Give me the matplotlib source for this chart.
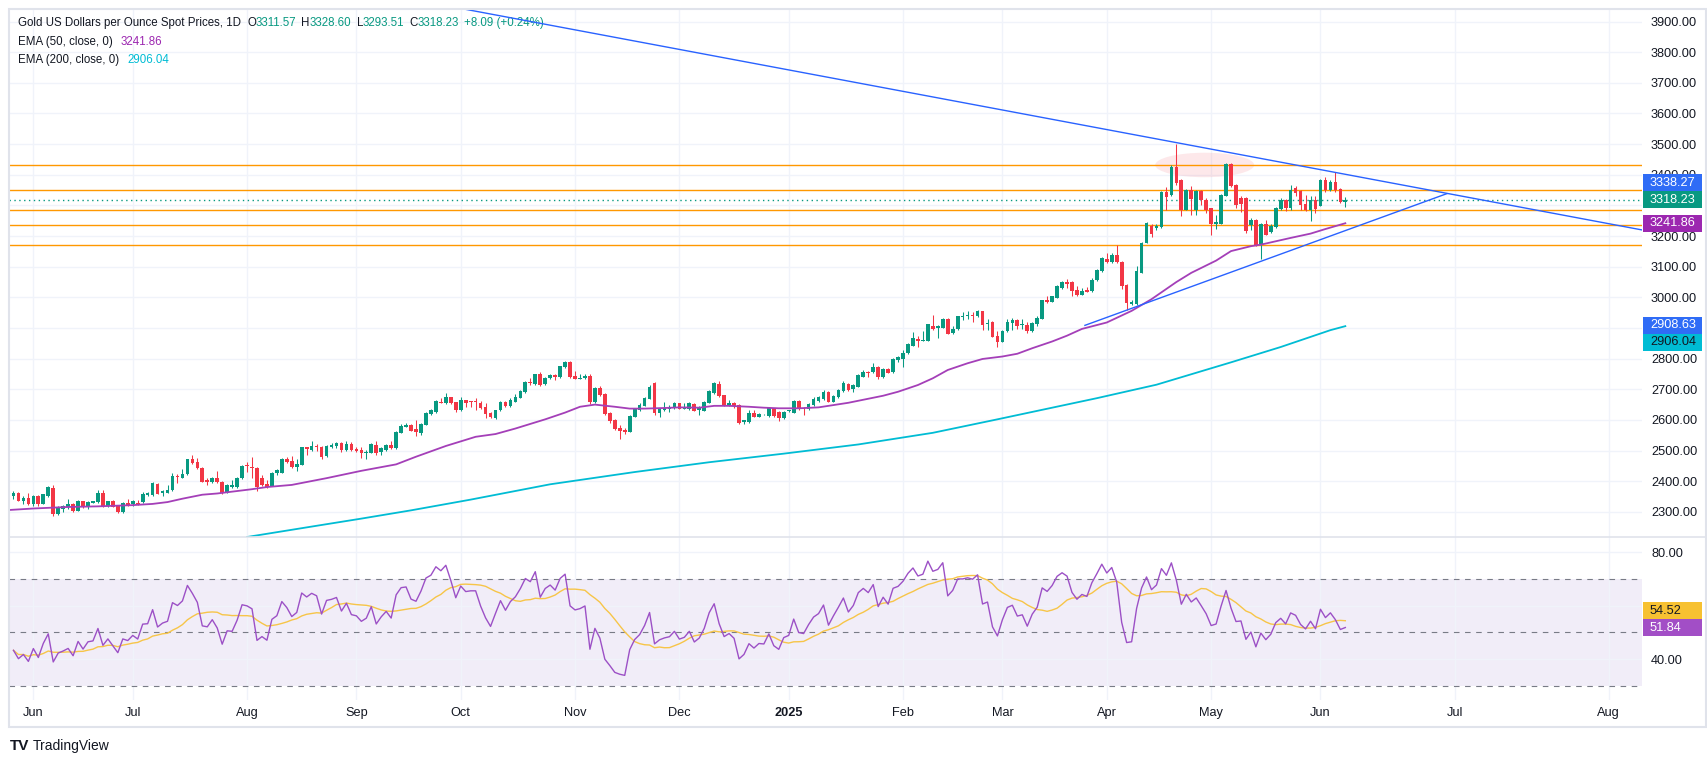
import numpy as np
import pandas as pd
import matplotlib
matplotlib.use("Agg")
import matplotlib.pyplot as plt
from matplotlib.patches import Ellipse, Rectangle
from matplotlib.lines import Line2D
from matplotlib.transforms import IdentityTransform

plt.rcParams['font.family'] = ['Liberation Sans', 'DejaVu Sans']

# daily OHLC, 28 May 2024 .. 9 Jun 2025
opens = [2352, 2363, 2337, 2346, 2325, 2352, 2327, 2352, 2377, 2293, 2310, 2315, 2326, 2304, 2335, 2315, 2330, 2331, 2361, 2320,
         2336, 2322, 2298, 2328, 2325, 2330, 2331, 2355, 2355, 2392, 2361, 2363, 2370, 2418, 2411, 2423, 2471, 2462, 2443, 2404,
         2396, 2412, 2398, 2363, 2381, 2381, 2409, 2451, 2447, 2443, 2409, 2392, 2385, 2427, 2428, 2472, 2466, 2446, 2454, 2511,
         2502, 2516, 2512, 2481, 2513, 2515, 2525, 2502, 2522, 2506, 2502, 2493, 2493, 2518, 2495, 2502, 2518, 2508, 2558, 2578,
         2583, 2571, 2558, 2584, 2619, 2625, 2659, 2656, 2674, 2658, 2632, 2664, 2662, 2660, 2656, 2643, 2623, 2606, 2632, 2658,
         2645, 2660, 2673, 2691, 2724, 2716, 2749, 2716, 2737, 2748, 2741, 2773, 2789, 2743, 2734, 2736, 2743, 2658, 2705, 2686,
         2624, 2600, 2574, 2568, 2562, 2611, 2632, 2647, 2669, 2719, 2624, 2631, 2635, 2639, 2654, 2637, 2637, 2653, 2632, 2630,
         2656, 2689, 2717, 2681, 2649, 2656, 2648, 2592, 2594, 2622, 2611, 2618, 2613, 2638, 2627, 2605, 2628, 2624, 2662, 2639,
         2635, 2649, 2661, 2667, 2692, 2660, 2676, 2696, 2717, 2700, 2709, 2741, 2758, 2755, 2774, 2741, 2765, 2755, 2796, 2798,
         2818, 2842, 2865, 2856, 2859, 2907, 2899, 2901, 2931, 2883, 2897, 2936, 2938, 2942, 2938, 2954, 2913, 2918, 2875, 2855,
         2889, 2916, 2927, 2909, 2911, 2889, 2914, 2931, 2990, 2986, 2999, 3031, 3049, 3049, 3023, 3009, 3023, 3020, 3056, 3086,
         3126, 3115, 3137, 3117, 3040, 2978, 2977, 3080, 3178, 3232, 3227, 3230, 3345, 3333, 3427, 3384, 3286, 3351, 3286, 3346,
         3319, 3291, 3238, 3240, 3332, 3435, 3368, 3324, 3324, 3235, 3252, 3172, 3240, 3214, 3229, 3289, 3317, 3291, 3358, 3346,
         3306, 3286, 3319, 3299, 3384, 3349, 3376, 3354, 3311.57]
highs = [2367, 2366, 2352, 2361, 2356, 2355, 2359, 2383, 2389, 2320, 2324, 2343, 2328, 2339, 2336, 2335, 2337, 2371, 2372, 2336,
         2339, 2324, 2333, 2341, 2339, 2339, 2366, 2364, 2396, 2394, 2372, 2389, 2428, 2422, 2440, 2473, 2487, 2477, 2445, 2412,
         2415, 2435, 2400, 2392, 2405, 2415, 2453, 2464, 2480, 2448, 2421, 2405, 2430, 2440, 2477, 2478, 2482, 2472, 2513, 2513,
         2531, 2521, 2515, 2518, 2524, 2528, 2529, 2531, 2528, 2511, 2511, 2502, 2524, 2531, 2511, 2520, 2531, 2563, 2586, 2589,
         2586, 2599, 2589, 2627, 2636, 2665, 2673, 2688, 2676, 2660, 2675, 2664, 2662, 2670, 2662, 2656, 2625, 2634, 2662, 2662,
         2670, 2686, 2699, 2726, 2738, 2751, 2758, 2740, 2751, 2751, 2777, 2792, 2792, 2760, 2749, 2751, 2751, 2708, 2710, 2689,
         2627, 2602, 2584, 2573, 2616, 2640, 2656, 2676, 2714, 2724, 2640, 2658, 2649, 2659, 2656, 2654, 2658, 2656, 2645, 2662,
         2697, 2723, 2726, 2683, 2665, 2659, 2652, 2600, 2632, 2632, 2622, 2619, 2640, 2640, 2629, 2630, 2631, 2664, 2665, 2643,
         2654, 2676, 2678, 2698, 2696, 2681, 2700, 2727, 2720, 2716, 2749, 2763, 2761, 2787, 2776, 2768, 2768, 2802, 2809, 2829,
         2851, 2886, 2873, 2889, 2914, 2943, 2911, 2934, 2934, 2907, 2940, 2951, 2957, 2951, 2958, 2957, 2929, 2922, 2889, 2892,
         2929, 2933, 2929, 2929, 2918, 2921, 2940, 2993, 3003, 3006, 3040, 3053, 3060, 3052, 3036, 3031, 3034, 3062, 3091, 3131,
         3145, 3145, 3171, 3119, 3042, 2993, 3102, 3181, 3247, 3238, 3239, 3348, 3360, 3433, 3501, 3386, 3354, 3362, 3351, 3351,
         3324, 3293, 3270, 3338, 3438, 3438, 3371, 3330, 3326, 3259, 3256, 3243, 3254, 3238, 3295, 3324, 3321, 3368, 3362, 3349,
         3334, 3330, 3330, 3386, 3393, 3382, 3408, 3356, 3328.60]
lows = [2343, 2337, 2325, 2322, 2318, 2318, 2326, 2350, 2287, 2290, 2301, 2310, 2298, 2302, 2312, 2311, 2329, 2329, 2317, 2317,
        2315, 2297, 2297, 2320, 2320, 2322, 2329, 2353, 2352, 2358, 2353, 2362, 2368, 2393, 2409, 2420, 2457, 2440, 2396, 2389,
        2394, 2394, 2357, 2361, 2379, 2379, 2407, 2431, 2410, 2367, 2386, 2379, 2383, 2420, 2426, 2461, 2443, 2435, 2452, 2487,
        2500, 2500, 2474, 2480, 2508, 2507, 2496, 2500, 2500, 2495, 2475, 2473, 2491, 2485, 2485, 2500, 2504, 2506, 2556, 2576,
        2563, 2547, 2551, 2582, 2616, 2623, 2654, 2652, 2652, 2625, 2630, 2641, 2641, 2634, 2636, 2606, 2606, 2603, 2629, 2643,
        2643, 2658, 2671, 2688, 2715, 2714, 2712, 2714, 2734, 2730, 2738, 2771, 2738, 2732, 2732, 2732, 2652, 2656, 2679, 2616,
        2591, 2568, 2539, 2555, 2560, 2609, 2630, 2644, 2667, 2616, 2608, 2629, 2626, 2637, 2636, 2635, 2632, 2628, 2615, 2628,
        2654, 2686, 2676, 2645, 2647, 2638, 2587, 2587, 2591, 2609, 2609, 2617, 2611, 2611, 2597, 2602, 2627, 2622, 2632, 2616,
        2632, 2647, 2658, 2665, 2657, 2657, 2673, 2692, 2696, 2691, 2707, 2739, 2739, 2752, 2733, 2738, 2752, 2752, 2789, 2774,
        2816, 2840, 2838, 2856, 2857, 2894, 2867, 2899, 2879, 2881, 2894, 2925, 2929, 2918, 2936, 2892, 2893, 2870, 2838, 2853,
        2886, 2894, 2897, 2897, 2883, 2886, 2907, 2929, 2982, 2984, 2997, 3028, 3030, 3003, 3006, 3007, 3017, 3018, 3053, 3082,
        3113, 3113, 3113, 3026, 2959, 2974, 2974, 3078, 3176, 3197, 3221, 3227, 3286, 3331, 3368, 3265, 3284, 3270, 3270, 3303,
        3275, 3205, 3223, 3238, 3330, 3360, 3292, 3278, 3210, 3221, 3167, 3124, 3202, 3210, 3227, 3284, 3281, 3286, 3330, 3286,
        3283, 3248, 3276, 3297, 3343, 3346, 3345, 3308, 3293.51]
closes = [2363, 2337, 2346, 2325, 2352, 2326, 2357, 2380, 2293, 2315, 2320, 2326, 2304, 2337, 2315, 2332, 2334, 2363, 2320, 2335,
          2317, 2298, 2328, 2324, 2335, 2327, 2359, 2360, 2393, 2359, 2368, 2372, 2418, 2413, 2425, 2471, 2458, 2443, 2398, 2396,
          2412, 2396, 2361, 2389, 2388, 2412, 2451, 2449, 2444, 2381, 2389, 2381, 2427, 2436, 2474, 2463, 2446, 2456, 2511, 2504,
          2515, 2511, 2480, 2516, 2519, 2524, 2502, 2521, 2502, 2500, 2491, 2497, 2520, 2493, 2507, 2518, 2508, 2560, 2580, 2582,
          2565, 2562, 2586, 2623, 2632, 2661, 2656, 2675, 2656, 2632, 2664, 2656, 2658, 2658, 2638, 2621, 2608, 2632, 2659, 2645,
          2664, 2675, 2695, 2723, 2719, 2749, 2714, 2738, 2748, 2741, 2775, 2789, 2741, 2734, 2737, 2743, 2658, 2705, 2681, 2619,
          2597, 2572, 2565, 2561, 2613, 2637, 2649, 2672, 2708, 2624, 2635, 2640, 2643, 2656, 2637, 2641, 2654, 2630, 2638, 2658,
          2695, 2719, 2679, 2649, 2656, 2645, 2591, 2600, 2622, 2611, 2620, 2619, 2638, 2613, 2605, 2626, 2630, 2662, 2637, 2635,
          2652, 2667, 2674, 2692, 2660, 2679, 2698, 2720, 2698, 2713, 2746, 2758, 2752, 2774, 2741, 2765, 2754, 2798, 2804, 2820,
          2847, 2867, 2856, 2862, 2912, 2898, 2905, 2931, 2881, 2898, 2938, 2938, 2942, 2940, 2954, 2911, 2916, 2872, 2853, 2889,
          2921, 2927, 2907, 2910, 2889, 2916, 2933, 2990, 2984, 3003, 3036, 3050, 3045, 3020, 3009, 3022, 3019, 3058, 3089, 3128,
          3115, 3137, 3115, 3037, 2983, 2985, 3086, 3178, 3243, 3208, 3234, 3345, 3326, 3427, 3373, 3286, 3351, 3321, 3346, 3317,
          3286, 3238, 3245, 3335, 3435, 3364, 3303, 3306, 3216, 3252, 3172, 3241, 3205, 3232, 3293, 3317, 3292, 3351, 3341, 3303,
          3284, 3319, 3289, 3384, 3351, 3375, 3349, 3310, 3318.23]

# moving averages read at points along the drawn lines (bar index, value)
ema50_idx = [-1, 4, 11, 17, 24, 28, 31, 34, 38, 41, 44, 48, 51, 56, 63, 70, 77, 81, 87, 93, 97, 101, 104, 107, 111, 114, 117,
             121, 124, 127, 131, 134, 138, 141, 144, 148, 151, 154, 158, 162, 168, 175, 178, 182, 185, 188, 192, 195, 199, 202,
             205, 209, 212, 215, 220, 225, 229, 234, 237, 242, 245, 249, 251, 254, 257, 261, 264, 268]
ema50_val = [2306, 2311, 2316, 2318, 2322, 2326, 2332, 2343, 2356, 2360, 2366, 2374, 2381, 2388, 2410, 2434, 2455, 2480, 2515,
             2545, 2554, 2572, 2587, 2602, 2624, 2643, 2650, 2643, 2637, 2637, 2639, 2641, 2640, 2646, 2646, 2643, 2640, 2638,
             2638, 2641, 2656, 2679, 2692, 2714, 2736, 2763, 2785, 2799, 2807, 2816, 2834, 2856, 2875, 2897, 2918, 2956, 2994,
             3050, 3080, 3120, 3151, 3167, 3172, 3183, 3194, 3208, 3223, 3241.86]
ema200_idx = [47, 60, 70, 80, 92, 108, 125, 140, 155, 170, 185, 198, 218, 230, 245, 255, 265, 268]
ema200_val = [2218, 2252, 2278, 2305, 2340, 2390, 2430, 2462, 2490, 2520, 2558, 2602, 2671, 2715, 2788, 2838, 2893, 2906.04]

levels = [3431.7, 3350.3, 3285.2, 3236.4, 3171.4]
upper_trend = [(234, 3505), (307, 3283)]
lower_trend = [(215.6, 2908.63), (288.4, 3338.27)]

dates = pd.bdate_range("2024-05-28", "2025-06-09")
dates = dates[dates != pd.Timestamp("2025-04-18")][:len(closes)]
x = np.arange(len(closes))
last = len(closes) - 1

UP, DOWN = '#089981', '#f23645'
GRID = '#f0f3fa'
TXT = '#131722'
W, H = 1708, 763
FS = 9.2      # price / time scale
LFS = 8.3     # legends

fig = plt.figure(figsize=(W / 100, H / 100), dpi=100)
ax = fig.add_axes([9 / W, 1 - 537 / H, 1633 / W, 528 / H])
rx = fig.add_axes([9 / W, 1 - 700 / H, 1633 / W, 163 / H], sharex=ax)

# month ticks (future months spaced by calendar days like TradingView)
tick_pos, tick_lab = [], []
for i in range(1, len(dates)):
    if dates[i].month != dates[i - 1].month:
        tick_pos.append(i)
        tick_lab.append(str(dates[i].year) if dates[i].month == 1 else dates[i].strftime('%b'))
for m in ["2025-07-01", "2025-08-01"]:
    tick_pos.append(last + (pd.Timestamp(m) - dates[-1]).days)
    tick_lab.append(pd.Timestamp(m).strftime('%b'))

for a in (ax, rx):
    for s in a.spines.values():
        s.set_visible(False)
    a.set_xticks(tick_pos)
    a.grid(axis='x', color=GRID, lw=1)
    a.yaxis.tick_right()
    a.tick_params(axis='both', length=0, labelsize=FS, labelcolor=TXT)
    a.tick_params(axis='y', pad=6.5)
    a.set_axisbelow(True)
ax.tick_params(labelbottom=False)
rx.set_xticklabels(tick_lab)
rx.tick_params(axis='x', pad=5)
for t in rx.get_xticklabels():
    if t.get_text() == '2025':
        t.set_fontweight('bold')

# price scale; labels sitting under the coloured tags are left blank
price_ticks = np.arange(2300, 3901, 100)
hidden = [2900, 3300]
ax.set_xlim(-0.9, 327.7)
ax.set_ylim(2218, 3941)
ax.set_yticks(price_ticks)
ax.set_yticklabels(['' if p in hidden else '%.2f' % p for p in price_ticks])
ax.grid(axis='y', color=GRID, lw=1)

# candles
o, h, l, c = map(np.array, (opens, highs, lows, closes))
col = np.where(c >= o, UP, DOWN)
ax.vlines(x, l, h, colors=col, lw=0.75, zorder=3)
ax.bar(x, np.maximum(np.abs(c - o), 3.0), bottom=np.minimum(o, c), width=0.74, color=col, zorder=3)

ax.plot(ema50_idx, ema50_val, color='#a43fb8', lw=1.3, zorder=4)
ax.plot(ema200_idx, ema200_val, color='#00bcd4', lw=1.3, zorder=4)

for lv in levels:
    ax.axhline(lv, color='#ff9800', lw=1.0, zorder=2)
ax.axhline(closes[-1], color=UP, lw=1.0, ls=(0, (1, 2.5)), zorder=2)
ax.axline(upper_trend[0], upper_trend[1], color='#2962ff', lw=1.0, zorder=5)
ax.plot([p[0] for p in lower_trend], [p[1] for p in lower_trend], color='#2962ff', lw=1.0, zorder=5)
ax.add_patch(Ellipse((239.7, 3432), 19.9, 80, color=DOWN, alpha=0.11, lw=0, zorder=1))

# RSI 14 (Wilder), averages seeded with the first 14 changes
chg = np.diff(closes)
gains, losses = np.clip(chg, 0, None), np.clip(-chg, 0, None)
ag, al = gains[:14].mean(), losses[:14].mean()
rsi = [100 - 100 / (1 + ag / al)]
for g, lo in zip(gains, losses):
    ag = (ag * 13 + g) / 14
    al = (al * 13 + lo) / 14
    rsi.append(100 - 100 / (1 + ag / al))
rsi = pd.Series(rsi)
rsi_ma = rsi.rolling(14, min_periods=1).mean()

rx.set_ylim(24.8, 85.6)
rx.set_yticks([40, 60, 80])
rx.set_yticklabels(['40.00', '', '80.00'])
rx.grid(axis='y', color=GRID, lw=1)
rx.axhspan(30, 70, color='#7e57c2', alpha=0.1, lw=0, zorder=0)
for lv in (70, 50, 30):
    rx.axhline(lv, color='#787b86', lw=0.8, ls=(0, (5, 5)), zorder=1)
rx.plot(x, rsi_ma, color='#f7c548', lw=1.0, zorder=3)
rx.plot(x, rsi, color='#9c50c6', lw=1.0, zorder=4)


def price_tag(a, value, face, fg, shift_px=0):
    ypix = a.transData.transform((0, value))[1] + shift_px
    fig.patches.append(Rectangle((1642.5, ypix - 8.5), 59.5, 17, transform=IdentityTransform(),
                                 color=face, lw=0, zorder=20))
    fig.text(1650, ypix, '%.2f' % value, transform=IdentityTransform(), color=fg, fontsize=FS,
             va='center', ha='left', zorder=21)


price_tag(ax, 3338.27, '#2f6cf6', 'white', 11.2)
price_tag(ax, closes[-1], UP, 'white')
price_tag(ax, 3241.86, '#9c27b0', 'white')
price_tag(ax, 2908.63, '#2f6cf6', 'white')
price_tag(ax, 2906.04, '#00bcd4', TXT, -16.3)
price_tag(rx, 54.52, '#f7c131', TXT, 9.8)
price_tag(rx, 51.84, '#a24ec6', 'white')


def legend_row(y_top, parts):
    prev = None
    for s, color, gap in parts:
        if prev is None:
            prev = ax.annotate(s, xy=(18, H - y_top), xycoords='figure pixels', va='center', ha='left',
                               color=color, fontsize=LFS, annotation_clip=False)
        else:
            prev = ax.annotate(s, xy=(1, 0), xycoords=prev, xytext=(gap * 0.72, 0), textcoords='offset points',
                               va='bottom', ha='left', color=color, fontsize=LFS, annotation_clip=False)


legend_row(23, [("Gold US Dollars per Ounce Spot Prices, 1D", TXT, 0),
                ("O", TXT, 6), ("3311.57", UP, 0), ("H", TXT, 5), ("3328.60", UP, 0),
                ("L", TXT, 5), ("3293.51", UP, 0), ("C", TXT, 5), ("3318.23", UP, 0),
                ("+8.09 (+0.24%)", UP, 5)])
legend_row(42, [("EMA (50, close, 0)", TXT, 0), ("3241.86", '#9c27b0', 8)])
legend_row(60, [("EMA (200, close, 0)", TXT, 0), ("2906.04", '#00bcd4', 8)])
legend_row(551, [("RSI (14, SMA, 14)", TXT, 0), ("51.84", '#9c50c6', 8), ("54.52", '#f7b731', 8)])

# outer frame and pane separator (display coords, origin bottom-left)
fig.patches.append(Rectangle((9, H - 727), 1697, 718, transform=IdentityTransform(), fill=False,
                             ec='#e0e3eb', lw=1.5, zorder=0))
fig.lines.append(Line2D([9, 1706], [H - 537, H - 537], transform=IdentityTransform(), color='#e0e3eb', lw=1.2))

fig.text(10, H - 746, "TV", transform=IdentityTransform(), fontsize=11, fontweight='bold', color=TXT, va='center')
fig.text(33, H - 746, "TradingView", transform=IdentityTransform(), fontsize=10, color=TXT, va='center')

fig.savefig('out.png', dpi=100, facecolor='white')
